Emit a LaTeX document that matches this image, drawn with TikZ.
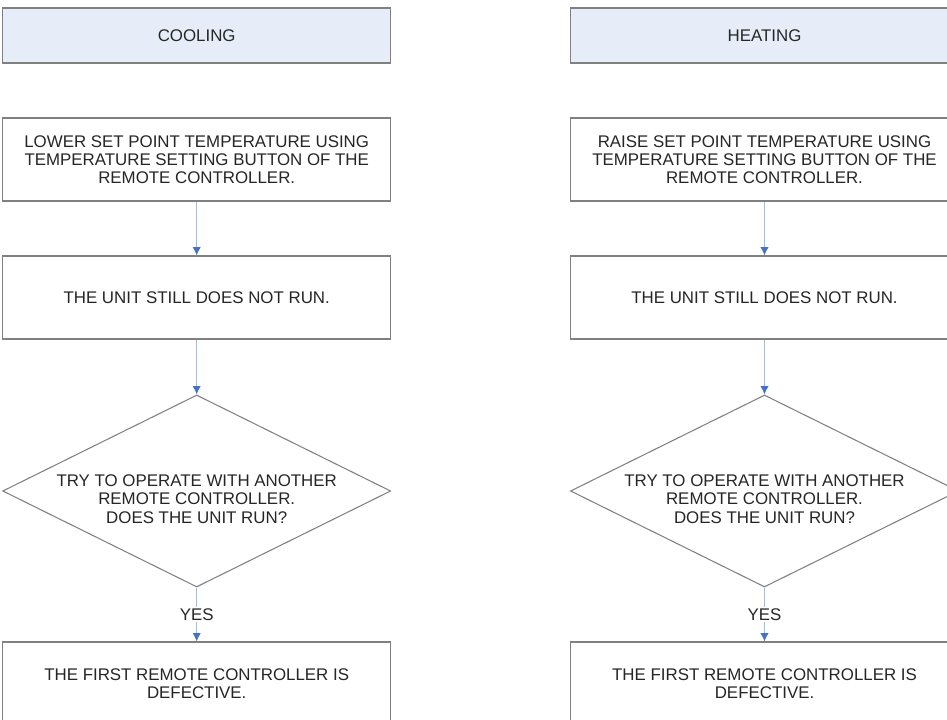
\documentclass[tikz,border=0pt]{standalone}
\usepackage{fontspec}
\setmainfont{Liberation Sans}
\usetikzlibrary{shapes.geometric,arrows.meta}
\definecolor{boxline}{RGB}{128,128,128}
\definecolor{headfill}{RGB}{231,237,248}
\definecolor{flowline}{RGB}{160,188,228}
\definecolor{flowtip}{RGB}{68,114,196}

\begin{document}
\begin{tikzpicture}[x=0.025cm,y=-0.025cm,
	every node/.style={font=\fontsize{12pt}{13pt}\selectfont, text=black!85},
	headbox/.style={draw=boxline, fill=headfill, line width=0.75pt, minimum width=9.7cm, minimum height=1.375cm, inner sep=0pt},
	stepbox/.style={draw=boxline, fill=white, line width=0.75pt, minimum width=9.7cm, minimum height=2.075cm, align=center, inner sep=0pt},
	decbox/.style={draw=boxline, fill=white, line width=0.75pt, shape=diamond, minimum width=9.7cm, minimum height=4.8cm, inner sep=0pt},
	flow/.style={draw=flowline, line width=0.8pt, -{Latex[length=6pt,width=6pt,color=flowtip]}},
	yeslabel/.style={fill=white, inner sep=1pt}]
		\path[use as bounding box, clip] (0,0) rectangle (947,720);

		% cooling
		\node[headbox] (cool) at (196.7,35.5) {COOLING};
		\node[stepbox] (lower) at (196.7,159.5) {LOWER SET POINT TEMPERATURE USING\\TEMPERATURE SETTING BUTTON OF THE\\REMOTE CONTROLLER.};
		\node[stepbox] (stillc) at (196.7,297.5) {THE UNIT STILL DOES NOT RUN.};
		\node[decbox] (tryc) at (196.7,491) {};
		\node[align=center] (tryctext) at (196.7,499) {TRY TO OPERATE WITH ANOTHER\\REMOTE CONTROLLER.\\DOES THE UNIT RUN?};
		\node[stepbox] (defc) at (196.7,683.5) {THE FIRST REMOTE CONTROLLER IS\\DEFECTIVE.};
		\draw[flow] (lower) -- (stillc);
		\draw[flow] (stillc) -- (tryc);
		\draw[flow] (tryc) -- node[yeslabel] (yesc) {YES} (defc);

		% heating
		\node[headbox] (heat) at (764.5,35.5) {HEATING};
		\node[stepbox] (raise) at (764.5,159.5) {RAISE SET POINT TEMPERATURE USING\\TEMPERATURE SETTING BUTTON OF THE\\REMOTE CONTROLLER.};
		\node[stepbox] (stillh) at (764.5,297.5) {THE UNIT STILL DOES NOT RUN.};
		\node[decbox] (tryh) at (764.5,491) {};
		\node[align=center] (tryhtext) at (764.5,499) {TRY TO OPERATE WITH ANOTHER\\REMOTE CONTROLLER.\\DOES THE UNIT RUN?};
		\node[stepbox] (defh) at (764.5,683.5) {THE FIRST REMOTE CONTROLLER IS\\DEFECTIVE.};
		\draw[flow] (raise) -- (stillh);
		\draw[flow] (stillh) -- (tryh);
		\draw[flow] (tryh) -- node[yeslabel] (yesh) {YES} (defh);
	\end{tikzpicture}
\end{document}
